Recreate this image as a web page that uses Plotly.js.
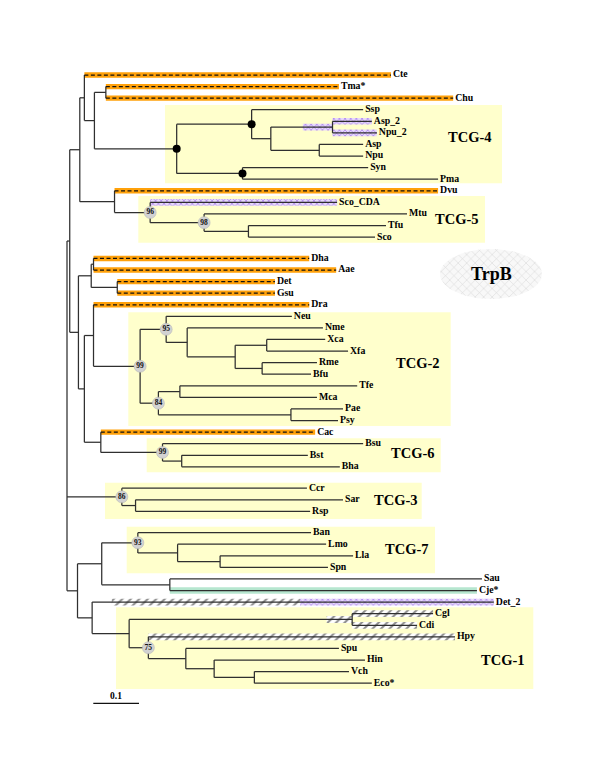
<!DOCTYPE html>
<html><head><meta charset="utf-8">
<script src="https://cdn.plot.ly/plotly-3.0.1.min.js"></script>
<style>html,body{margin:0;padding:0;background:#fff}#chart{width:600px;height:777px}</style>
</head><body><div id="chart"></div>
<script>
// ---------------- DATA ----------------
// leaves, top to bottom
const leafNames = ['Cte','Tma*','Chu','Ssp','Asp_2','Npu_2','Asp','Npu','Syn','Pma','Dvu','Sco_CDA','Mtu','Tfu','Sco',
 'Dha','Aae','Det','Gsu','Dra','Neu','Nme','Xca','Xfa','Rme','Bfu','Tfe','Mca','Pae','Psy','Cac','Bsu','Bst','Bha',
 'Ccr','Sar','Rsp',
 'Ban','Lmo','Lla','Spn','Sau','Cje*','Det_2','Cgl','Cdi','Hpy','Spu','Hin','Vch','Eco*'];
const leafParent = ['G','TM','TM','T4a','T4c','T4c','T4d','T4d','T4e','T4e','DT','T5a','T5b','T5c','T5c',
 'DA','DA','DG','DG','DR','T2a','T2b','T2d','T2d','T2e','T2e','T2g','T2g','T2h','T2h','CA','T6','T6a','T6a',
 'T3','T3a','T3a',
 'T7','T7a','T7b','T7b','SC','SC','K','T1a','T1a','T1b','T1c','T1d','T1e','T1e'];
// cumulative distance from the root (substitutions per site)
const leafDepth = [0.709,0.595,0.845,0.648,0.667,0.678,0.648,0.648,0.659,0.812,0.812,0.591,0.744,0.698,0.674,
 0.530,0.589,0.455,0.455,0.530,0.492,0.560,0.565,0.615,0.547,0.534,0.635,0.547,0.604,0.593,0.543,0.648,0.527,0.597,
 0.525,0.604,0.532,
 0.534,0.567,0.626,0.571,0.908,0.897,0.934,0.801,0.766,0.849,0.595,0.652,0.617,0.667];
const blockStarts = ['Dha','Ccr','Ban'];

// internal nodes
const nodeNames = ['root','B','F','G','H','TM','T4','T4a','T4b','T4c','T4d','T4e','DT','T5a','T5b','T5c',
 'D','E','DA','DG','C','DR','T2','T2a','T2b','T2c','T2d','T2e','T2f','T2g','T2h','CA','T6','T6a',
 'T3','T3a','I','J','T7','T7a','T7b','SC','K','T1','T1a','T1b','T1c','T1d','T1e'];
const nodeParent = [null,'root','B','F','G','H','H','T4','T4a','T4b','T4b','T4','F','DT','T5a','T5b',
 'B','D','E','E','D','C','DR','T2','T2a','T2b','T2c','T2c','T2','T2f','T2f','C','CA','T6',
 'root','T3','root','I','J','T7','T7a','J','I','K','T1','T1','T1b','T1c','T1d'];
const nodeDepth = [0,0.006,0.028,0.038,0.060,0.085,0.240,0.404,0.446,0.581,0.552,0.384,0.104,0.182,0.300,0.397,
 0.025,0.053,0.058,0.110,0.038,0.058,0.160,0.217,0.263,0.368,0.437,0.427,0.200,0.247,0.490,0.074,0.209,0.251,
 0.120,0.150,0.023,0.076,0.155,0.242,0.335,0.225,0.055,0.136,0.624,0.178,0.260,0.322,0.410];

// bootstrap support
const bootNodes  = ['T5a','T5b','T2a','T2','T2f','T6','T3','T7','T1b'];
const bootValues = [96,98,95,99,84,99,86,93,75];
const strongNodes = ['T4','T4a','T4e'];

// highlighted branches: [branch, start depth (optional), end depth (optional)]
const orangeBranches = ['Cte','Tma*','Chu','Dvu','Dha','Aae','Det','Gsu','Dra','Cac'];
const purpleBands = [['Asp_2'],['Npu_2'],['T4c',0.516],['Sco_CDA'],['Det_2',0.510]];
const hatchBands  = [['Det_2',0.098,0.510],['T1a',0.568],['Cgl'],['Cdi'],['Hpy']];
const mintBands   = [['Cje*']];

// clade groups
const cladeNames = ['TCG-4','TCG-5','TCG-2','TCG-6','TCG-3','TCG-7','TCG-1'];
const scaleBarValue = 0.1;

// ---------------- LAYOUT HELPERS ----------------
const X0 = 67, SCALE = 457, Y0 = 75, ROW = 11.58, GAP = 0.84;
const px2x = p => (p - X0) / SCALE;
const px2y = p => (p - Y0) / ROW;
const FONT = 'Liberation Serif, Times New Roman, serif';

// box pixel extents [x0,x1,y0,y1] and label centres, per clade
const cladeBoxPx = [[165,502,105,183.3],[138.3,485,196,242.7],[128.3,450.7,312.3,426],[146.7,440.7,438.3,472.3],
  [105,421.7,482.7,519],[126.7,435,526.7,573.3],[116,533.3,607.3,689]];
const cladeLabelPx = [[470,137],[456.7,219],[418,363],[412.7,453],[395.7,500],[406.7,549],[503.3,660]];

// ---------------- TREE GEOMETRY ----------------
const Y = {}, D = {}, P = {};
let blk = 0;
leafNames.forEach((n, i) => {
  if (blockStarts.includes(n)) blk++;
  Y[n] = i + GAP * blk; D[n] = leafDepth[i]; P[n] = leafParent[i];
});
nodeNames.forEach((n, i) => { D[n] = nodeDepth[i]; P[n] = nodeParent[i]; });
const allNames = Object.keys(P);
const kids = n => allNames.filter(k => P[k] === n);
function yOf(n) {
  if (n in Y) return Y[n];
  const ys = kids(n).map(yOf);
  Y[n] = (Math.min(...ys) + Math.max(...ys)) / 2;
  return Y[n];
}
yOf('root');

const solid = {x: [], y: []}, dashed = {x: [], y: []};
allNames.forEach(n => {
  const p = P[n];
  if (p === null || p === undefined) return;
  const t = orangeBranches.includes(n) ? dashed : solid;
  t.x.push(D[p], D[n], null); t.y.push(Y[n], Y[n], null);
});
nodeNames.forEach(n => {
  const ys = kids(n).map(k => Y[k]);
  solid.x.push(D[n], D[n], null); solid.y.push(Math.min(...ys), Math.max(...ys), null);
});

function bandPoly(list, halfPx) {
  const h = halfPx / ROW, x = [], y = [];
  list.forEach(b => {
    const n = b[0];
    const a = (b[1] !== undefined) ? b[1] : D[P[n]];
    const e = (b[2] !== undefined) ? b[2] : D[n];
    const yc = Y[n];
    x.push(a, e, e, a, a, null); y.push(yc - h, yc - h, yc + h, yc + h, yc - h, null);
  });
  return {x, y};
}

const traces = [];
const orangeP = bandPoly(orangeBranches.map(n => [n]), 2.7);
traces.push({type:'scatter', mode:'lines', x: orangeP.x, y: orangeP.y, fill:'toself',
  fillcolor:'#ffa10a', line:{width:0}, hoverinfo:'skip'});
const purpleP = bandPoly(purpleBands, 3.3);
traces.push({type:'scatter', mode:'lines', x: purpleP.x, y: purpleP.y, fill:'toself',
  fillcolor:'#dccaf7', fillpattern:{shape:'x', fgcolor:'#b48ff0', bgcolor:'#e6dafa', size:4, solidity:0.4},
  line:{width:0}, hoverinfo:'skip'});
const hatchP = bandPoly(hatchBands, 3.4);
traces.push({type:'scatter', mode:'lines', x: hatchP.x, y: hatchP.y, fill:'toself',
  fillcolor:'#ffffff', fillpattern:{shape:'/', fgcolor:'#8c8c8c', bgcolor:'#ffffff', size:6, solidity:0.35},
  line:{width:0}, hoverinfo:'skip'});
const mintP = bandPoly(mintBands, 3.3);
traces.push({type:'scatter', mode:'lines', x: mintP.x, y: mintP.y, fill:'toself',
  fillcolor:'#b6e6cf', line:{width:0}, hoverinfo:'skip'});

// TrpB ellipse (decoration)
const ell = {x: [], y: []};
for (let k = 0; k <= 72; k++) {
  const t = k / 72 * 2 * Math.PI;
  ell.x.push(px2x(491 + 51 * Math.cos(t))); ell.y.push(px2y(274 + 25 * Math.sin(t)));
}
traces.push({type:'scatter', mode:'lines', x: ell.x, y: ell.y, fill:'toself',
  fillcolor:'#f0f0f0', fillpattern:{shape:'x', fgcolor:'#d2d2d2', bgcolor:'#f8f8f8', size:6, solidity:0.15},
  line:{width:0}, hoverinfo:'skip'});

traces.push({type:'scatter', mode:'lines', x: solid.x, y: solid.y,
  line:{color:'#2f2f2f', width:1.25}, hoverinfo:'skip'});
traces.push({type:'scatter', mode:'lines', x: dashed.x, y: dashed.y,
  line:{color:'#111111', width:1.25, dash:'4px,2.5px'}, hoverinfo:'skip'});

// scale bar
const sbStart = px2x(93.3), sbY = px2y(703.3);
traces.push({type:'scatter', mode:'lines', x:[sbStart, sbStart + scaleBarValue], y:[sbY, sbY],
  line:{color:'#111', width:1.2}, hoverinfo:'skip'});

// strong support dots
traces.push({type:'scatter', mode:'markers', x: strongNodes.map(n => D[n]), y: strongNodes.map(n => Y[n]),
  marker:{color:'#000', size:8}, hoverinfo:'skip'});
// bootstrap
traces.push({type:'scatter', mode:'markers+text', x: bootNodes.map(n => D[n]), y: bootNodes.map(n => Y[n]),
  text: bootValues.map(v => '<b>' + v + '</b>'), textposition:'middle center',
  textfont:{family: FONT, size:7.5, color:'#111'},
  marker:{color:'#d2d2d2', size:12, line:{color:'#b8b8b8', width:0.6}}, hoverinfo:'skip'});
// leaf labels
traces.push({type:'scatter', mode:'text', x: leafNames.map(n => D[n] + 2 / SCALE), y: leafNames.map(n => Y[n]),
  text: leafNames.map(n => '<b>' + n + '</b>'), textposition:'middle right',
  textfont:{family: FONT, size:9.8, color:'#000'}, hoverinfo:'skip'});

const shapes = cladeBoxPx.map(b => ({type:'rect', xref:'x', yref:'y', layer:'below',
  x0: px2x(b[0]), x1: px2x(b[1]), y0: px2y(b[2]), y1: px2y(b[3]),
  fillcolor:'#ffffcc', line:{width:0}}));

const annotations = cladeNames.map((c, i) => ({xref:'x', yref:'y', x: px2x(cladeLabelPx[i][0]), y: px2y(cladeLabelPx[i][1]),
  text:'<b>' + c + '</b>', showarrow:false, xanchor:'center', yanchor:'middle',
  font:{family: FONT, size:14.5, color:'#000'}}));
annotations.push({xref:'x', yref:'y', x: px2x(491), y: px2y(274), text:'<b>TrpB</b>', showarrow:false,
  xanchor:'center', yanchor:'middle', font:{family: FONT, size:18, color:'#000'}});
annotations.push({xref:'x', yref:'y', x: sbStart + scaleBarValue / 2, y: sbY, yshift: 7, text:'<b>' + scaleBarValue + '</b>',
  showarrow:false, xanchor:'center', yanchor:'middle', font:{family: FONT, size:9.5, color:'#000'}});

const layout = {
  width: 600, height: 777, margin:{l:0, r:0, t:0, b:0},
  paper_bgcolor:'#ffffff', plot_bgcolor:'#ffffff', showlegend:false,
  xaxis:{visible:false, range:[px2x(0), px2x(600)], fixedrange:true},
  yaxis:{visible:false, range:[px2y(777), px2y(0)], fixedrange:true},
  shapes, annotations, hovermode:false
};
Plotly.newPlot('chart', traces, layout, {displayModeBar:false, staticPlot:true});
</script></body></html>
